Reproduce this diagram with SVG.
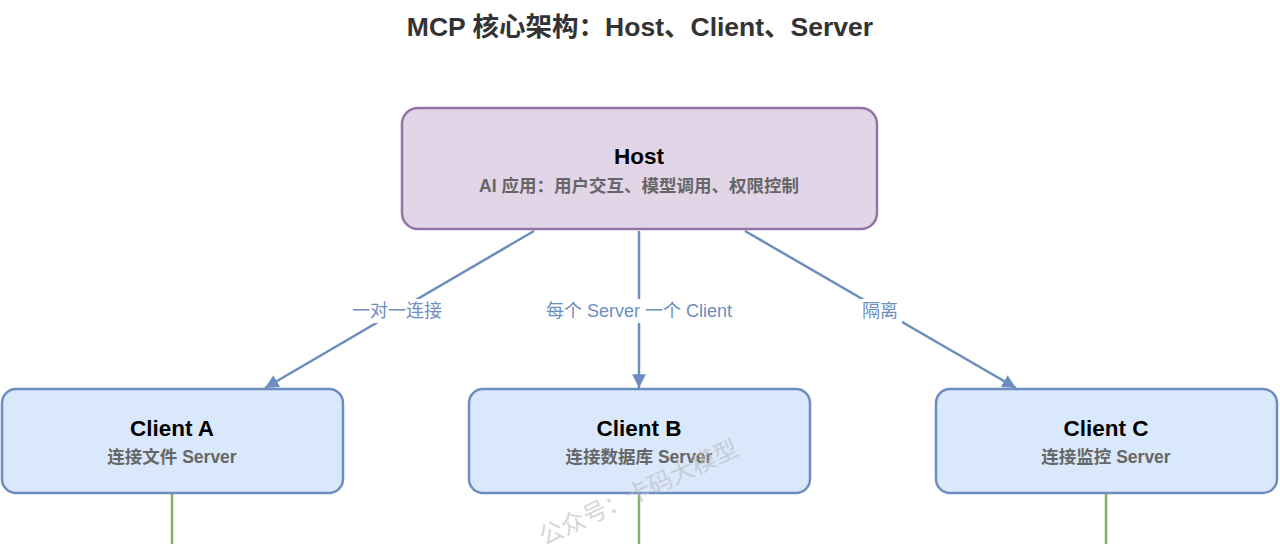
<svg xmlns="http://www.w3.org/2000/svg" width="1280" height="544" viewBox="0 0 1280 544">
<defs>
<style>
.host{fill:#e1d5e7;stroke:#9673a6;stroke-width:2.5}
.cli{fill:#dae8fc;stroke:#6c8ebf;stroke-width:2.5}
.t{font-family:"Liberation Sans","Noto Sans CJK SC",sans-serif;text-anchor:middle}
.title{font-size:26.5px;font-weight:bold;fill:#333}
.nt{font-size:22.5px;font-weight:bold;fill:#000}
.ns{font-size:17.5px;font-weight:bold;fill:#666}
.edge{stroke:#6c8ebf;stroke-width:2.5;fill:none}
.el{font-size:18px;fill:#6c8ebf}
.g{stroke:#82b366;stroke-width:2.5}
.wm{font-size:24px;fill:#bbb;opacity:0.6}
</style>
<marker id="arr" viewBox="0 0 10 10" refX="10" refY="5" markerWidth="5.5" markerHeight="5.5" markerUnits="strokeWidth" orient="auto">
<path d="M0,0 L10,5 L0,10 Z" fill="#6c8ebf"/>
</marker>
</defs>
<rect width="1280" height="544" fill="#fff"/>
<text class="t title" x="640" y="36">MCP 核心架构：Host、Client、Server</text>
<g id="connectors">
<line class="edge" x1="534" y1="231" x2="265" y2="388" marker-end="url(#arr)"/>
<line class="edge" x1="639" y1="231" x2="639" y2="388" marker-end="url(#arr)"/>
<line class="edge" x1="745" y1="231" x2="1016" y2="388" marker-end="url(#arr)"/>
<rect x="348" y="299" width="98" height="24" fill="#fff"/>
<rect x="543" y="299" width="193" height="24" fill="#fff"/>
<rect x="858" y="299" width="44" height="24" fill="#fff"/>
<text class="t el" x="397" y="317">一对一连接</text>
<text class="t el" x="639" y="317">每个 Server 一个 Client</text>
<text class="t el" x="880" y="317">隔离</text>
<line class="g" x1="172" y1="494" x2="172" y2="544"/>
<line class="g" x1="639" y1="494" x2="639" y2="544"/>
<line class="g" x1="1106" y1="494" x2="1106" y2="544"/>
</g>
<g id="host">
<rect class="host" x="402" y="108" width="475" height="121" rx="16"/>
<text class="t nt" x="639" y="164">Host</text>
<text class="t ns" x="639" y="192">AI 应用：用户交互、模型调用、权限控制</text>
</g>
<g id="clientA">
<rect class="cli" x="2" y="389" width="341" height="104" rx="14"/>
<text class="t nt" x="172" y="436">Client A</text>
<text class="t ns" x="172" y="463">连接文件 Server</text>
</g>
<g id="clientB">
<rect class="cli" x="469" y="389" width="341" height="104" rx="14"/>
<text class="t nt" x="639" y="436">Client B</text>
<text class="t ns" x="639" y="463">连接数据库 Server</text>
</g>
<g id="clientC">
<rect class="cli" x="936" y="389" width="341" height="104" rx="14"/>
<text class="t nt" x="1106" y="436">Client C</text>
<text class="t ns" x="1106" y="463">连接监控 Server</text>
</g>
<text class="t wm" x="642" y="500" transform="rotate(-25 642 500)">公众号：卡码大模型</text>
</svg>
